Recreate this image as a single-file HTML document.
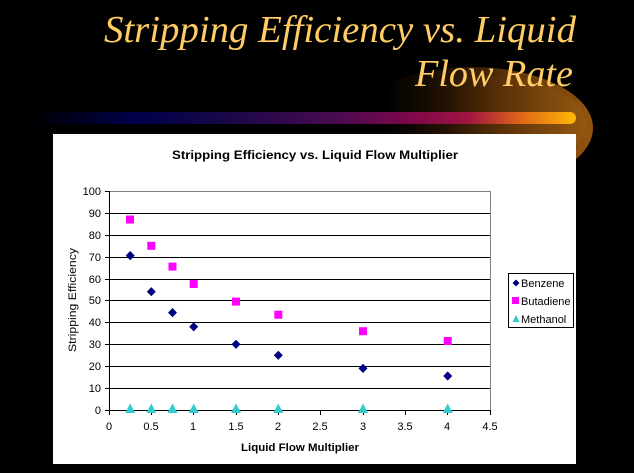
<!DOCTYPE html>
<html><head><meta charset="utf-8"><style>
html,body{margin:0;padding:0;background:#000;}
svg{display:block;}
</style></head><body>
<svg width="634" height="473" viewBox="0 0 634 473" xmlns="http://www.w3.org/2000/svg">
<defs>
<linearGradient id="glow" x1="385" y1="0" x2="595" y2="0" gradientUnits="userSpaceOnUse">
<stop offset="0" stop-color="#000"/>
<stop offset="0.3" stop-color="#221203"/>
<stop offset="0.65" stop-color="#653809"/>
<stop offset="1" stop-color="#94560f"/>
</linearGradient>
<linearGradient id="glow2" x1="400" y1="0" x2="590" y2="0" gradientUnits="userSpaceOnUse">
<stop offset="0" stop-color="#000" stop-opacity="0"/>
<stop offset="0.5" stop-color="#5a3008"/>
<stop offset="1" stop-color="#a06014"/>
</linearGradient>
<linearGradient id="bar" x1="40" y1="0" x2="576" y2="0" gradientUnits="userSpaceOnUse">
<stop offset="0" stop-color="#000008"/>
<stop offset="0.18" stop-color="#00004a"/>
<stop offset="0.35" stop-color="#180848"/>
<stop offset="0.55" stop-color="#4a0a50"/>
<stop offset="0.7" stop-color="#80084a"/>
<stop offset="0.8" stop-color="#a01440"/>
<stop offset="0.9" stop-color="#e06818"/>
<stop offset="1" stop-color="#ffb808"/>
</linearGradient>
</defs>
<rect width="634" height="473" fill="#000"/>
<ellipse cx="472" cy="128" rx="121" ry="61" fill="url(#glow)"/>
<ellipse cx="482" cy="124" rx="104" ry="48" fill="url(#glow2)" opacity="0.5"/>
<path d="M40 112 H570 A6 6 0 0 1 570 124 H40 Z" fill="url(#bar)"/>
<text x="576" y="42" text-anchor="end" font-family="Liberation Serif, serif" font-style="italic" font-size="38" fill="#FFCC66" textLength="472" lengthAdjust="spacingAndGlyphs">Stripping Efficiency vs. Liquid</text>
<text x="573" y="86" text-anchor="end" font-family="Liberation Serif, serif" font-style="italic" font-size="38" fill="#FFCC66" textLength="158" lengthAdjust="spacingAndGlyphs">Flow Rate</text>

<rect x="53" y="134" width="523" height="330" fill="#fff"/>
<text x="315" y="159" text-anchor="middle" font-family="Liberation Sans, sans-serif" font-weight="bold" font-size="12" fill="#000" textLength="286" lengthAdjust="spacingAndGlyphs">Stripping Efficiency vs. Liquid Flow Multiplier</text>

<g stroke="#000" stroke-width="1" shape-rendering="crispEdges">
<line x1="109" y1="213.5" x2="490" y2="213.5"/>
<line x1="109" y1="235.5" x2="490" y2="235.5"/>
<line x1="109" y1="257.5" x2="490" y2="257.5"/>
<line x1="109" y1="279.5" x2="490" y2="279.5"/>
<line x1="109" y1="300.5" x2="490" y2="300.5"/>
<line x1="109" y1="322.5" x2="490" y2="322.5"/>
<line x1="109" y1="344.5" x2="490" y2="344.5"/>
<line x1="109" y1="366.5" x2="490" y2="366.5"/>
<line x1="109" y1="388.5" x2="490" y2="388.5"/>
</g>
<g stroke="#808080" stroke-width="1" shape-rendering="crispEdges">
<line x1="109" y1="191.5" x2="490.5" y2="191.5"/>
<line x1="490.5" y1="191" x2="490.5" y2="410"/>
</g>
<g stroke="#000" stroke-width="1" shape-rendering="crispEdges">
<line x1="109.5" y1="191" x2="109.5" y2="411"/>
<line x1="105" y1="410.5" x2="491" y2="410.5"/>
<line x1="105" y1="191.5" x2="109" y2="191.5"/>
<line x1="105" y1="213.5" x2="109" y2="213.5"/>
<line x1="105" y1="235.5" x2="109" y2="235.5"/>
<line x1="105" y1="257.5" x2="109" y2="257.5"/>
<line x1="105" y1="279.5" x2="109" y2="279.5"/>
<line x1="105" y1="300.5" x2="109" y2="300.5"/>
<line x1="105" y1="322.5" x2="109" y2="322.5"/>
<line x1="105" y1="344.5" x2="109" y2="344.5"/>
<line x1="105" y1="366.5" x2="109" y2="366.5"/>
<line x1="105" y1="388.5" x2="109" y2="388.5"/>
<line x1="109.5" y1="410" x2="109.5" y2="415"/>
<line x1="151.5" y1="410" x2="151.5" y2="415"/>
<line x1="193.5" y1="410" x2="193.5" y2="415"/>
<line x1="236.5" y1="410" x2="236.5" y2="415"/>
<line x1="278.5" y1="410" x2="278.5" y2="415"/>
<line x1="320.5" y1="410" x2="320.5" y2="415"/>
<line x1="363.5" y1="410" x2="363.5" y2="415"/>
<line x1="405.5" y1="410" x2="405.5" y2="415"/>
<line x1="447.5" y1="410" x2="447.5" y2="415"/>
<line x1="490.5" y1="410" x2="490.5" y2="415"/>
</g>

<g font-family="Liberation Sans, sans-serif" font-size="11" fill="#000" text-anchor="end">
<text x="101" y="195">100</text>
<text x="101" y="217">90</text>
<text x="101" y="239">80</text>
<text x="101" y="261">70</text>
<text x="101" y="283">60</text>
<text x="101" y="304">50</text>
<text x="101" y="326">40</text>
<text x="101" y="348">30</text>
<text x="101" y="370">20</text>
<text x="101" y="392">10</text>
<text x="101" y="414">0</text>
</g>
<g font-family="Liberation Sans, sans-serif" font-size="11" fill="#000" text-anchor="middle">
<text x="109" y="430">0</text>
<text x="151" y="430">0.5</text>
<text x="193" y="430">1</text>
<text x="236" y="430">1.5</text>
<text x="278" y="430">2</text>
<text x="320" y="430">2.5</text>
<text x="363" y="430">3</text>
<text x="405" y="430">3.5</text>
<text x="447" y="430">4</text>
<text x="490" y="430">4.5</text>
</g>
<text x="300" y="451" text-anchor="middle" font-family="Liberation Sans, sans-serif" font-weight="bold" font-size="11" fill="#000" textLength="118" lengthAdjust="spacingAndGlyphs">Liquid Flow Multiplier</text>
<text transform="translate(76,300) rotate(-90)" text-anchor="middle" font-family="Liberation Sans, sans-serif" font-size="11" fill="#000" textLength="104" lengthAdjust="spacingAndGlyphs">Stripping Efficiency</text>

<!-- Butadiene squares -->
<g fill="#FF00FF">
<rect x="126" y="215.5" width="8" height="8"/>
<rect x="147.3" y="241.8" width="8" height="8"/>
<rect x="168.5" y="262.6" width="8" height="8"/>
<rect x="189.7" y="280" width="8" height="8"/>
<rect x="232" y="297.6" width="8" height="8"/>
<rect x="274.3" y="310.7" width="8" height="8"/>
<rect x="359" y="327.2" width="8" height="8"/>
<rect x="443.7" y="337" width="8" height="8"/>
</g>
<!-- Benzene diamonds -->
<g fill="#000080">
<path d="M130.2 251 L134.7 255.6 L130.2 260.2 L125.7 255.6 Z"/>
<path d="M151.3 287.1 L155.8 291.7 L151.3 296.3 L146.8 291.7 Z"/>
<path d="M172.5 308 L177 312.6 L172.5 317.2 L168 312.6 Z"/>
<path d="M193.7 322.2 L198.2 326.8 L193.7 331.4 L189.2 326.8 Z"/>
<path d="M236 339.7 L240.5 344.3 L236 348.9 L231.5 344.3 Z"/>
<path d="M278.3 350.7 L282.8 355.3 L278.3 359.9 L273.8 355.3 Z"/>
<path d="M363 363.8 L367.5 368.4 L363 373 L358.5 368.4 Z"/>
<path d="M447.7 371.4 L452.2 376 L447.7 380.6 L443.2 376 Z"/>
</g>
<!-- Methanol triangles -->
<g fill="#33CCCC">
<path d="M130.2 403.5 L135.2 413 L125.2 413 Z"/>
<path d="M151.3 403.5 L156.3 413 L146.3 413 Z"/>
<path d="M172.5 403.5 L177.5 413 L167.5 413 Z"/>
<path d="M193.7 403.5 L198.7 413 L188.7 413 Z"/>
<path d="M236 403.5 L241 413 L231 413 Z"/>
<path d="M278.3 403.5 L283.3 413 L273.3 413 Z"/>
<path d="M363 403.5 L368 413 L358 413 Z"/>
<path d="M447.7 403.5 L452.7 413 L442.7 413 Z"/>
</g>

<!-- Legend -->
<rect x="508.5" y="273.5" width="65" height="54" fill="#fff" stroke="#000" stroke-width="1" shape-rendering="crispEdges"/>
<path d="M516 279.5 L519.5 283 L516 286.5 L512.5 283 Z" fill="#000080"/>
<rect x="512" y="297" width="7" height="7" fill="#FF00FF"/>
<path d="M516 315 L519.5 322 L512.5 322 Z" fill="#33CCCC"/>
<g font-family="Liberation Sans, sans-serif" font-size="11" fill="#000">
<text x="521" y="287">Benzene</text>
<text x="521" y="305">Butadiene</text>
<text x="521" y="323">Methanol</text>
</g>
</svg>
</body></html>
